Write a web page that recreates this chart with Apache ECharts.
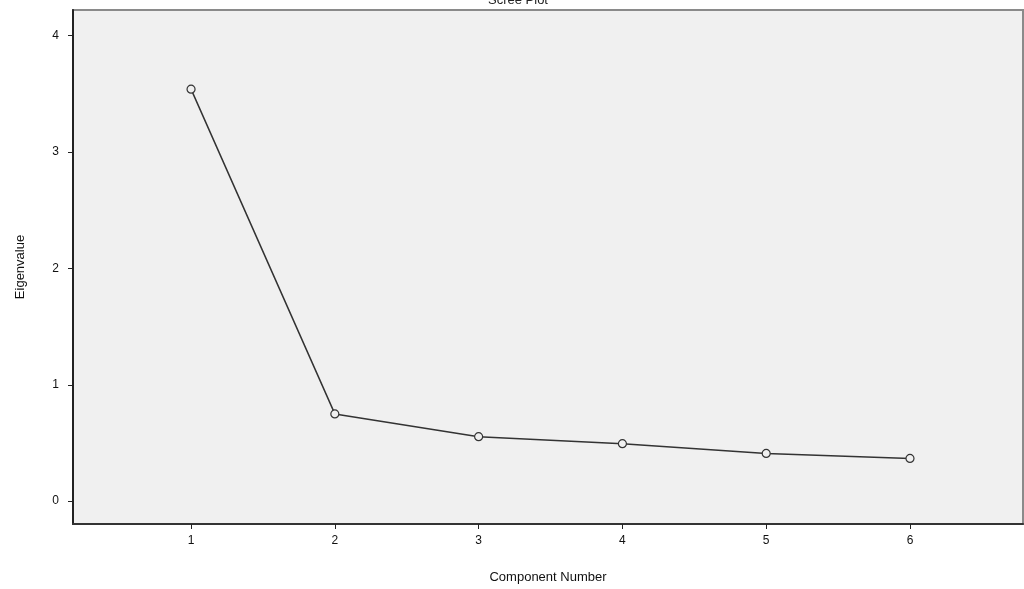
<!DOCTYPE html>
<html>
<head>
<meta charset="utf-8">
<script src="https://cdn.jsdelivr.net/npm/echarts@6/dist/echarts.min.js"></script>
<style>
html,body{margin:0;padding:0;background:#fff;}
#chart{width:1024px;height:589px;}
</style>
</head>
<body>
<div id="chart"></div>
<script>
const components = [1, 2, 3, 4, 5, 6];
const eigenvalues = [3.54, 0.75, 0.554, 0.494, 0.41, 0.367];
const xTicks = [1, 2, 3, 4, 5, 6];
const yTicks = [0, 1, 2, 3, 4];
const titleText = 'Scree Plot';
const xName = 'Component Number';
const yName = 'Eigenvalue';

const chart = echarts.init(document.getElementById('chart'), null, {renderer: 'canvas'});
const font = 'Liberation Sans, Arial, sans-serif';
chart.setOption({
  animation: false,
  backgroundColor: '#ffffff',
  title: {
    text: titleText,
    left: 513, textAlign: 'center',
    top: -11,
    textStyle: {fontFamily: font, fontSize: 13, fontWeight: 'normal', color: '#222'}
  },
  grid: {
    left: 73, right: 1, top: 10, bottom: 61,
    show: true, backgroundColor: '#f0f0f0', borderColor: '#8a8a8a', borderWidth: 2
  },
  xAxis: {
    type: 'value', min: 0.179, max: 6.786,
    name: xName, nameLocation: 'middle', nameGap: 47,
    nameTextStyle: {fontFamily: font, fontSize: 13, color: '#111'},
    axisLine: {show: true, onZero: false, lineStyle: {color: '#333', width: 2}},
    axisTick: {show: true, customValues: xTicks, length: 5, lineStyle: {color: '#222'}},
    axisLabel: {customValues: xTicks, margin: 11, fontFamily: font, fontSize: 12, color: '#111'},
    splitLine: {show: false}
  },
  yAxis: {
    type: 'value', min: -0.196, max: 4.22,
    name: yName, nameLocation: 'middle', nameGap: 46, nameRotate: 90,
    nameTextStyle: {fontFamily: font, fontSize: 13, color: '#111'},
    axisLine: {show: true, onZero: false, lineStyle: {color: '#222', width: 2}},
    axisTick: {show: true, customValues: yTicks, length: 5, lineStyle: {color: '#222'}},
    axisLabel: {customValues: yTicks, margin: 14, fontFamily: font, fontSize: 12, color: '#111'},
    splitLine: {show: false}
  },
  series: [{
    type: 'line',
    data: components.map((c, i) => [c, eigenvalues[i]]),
    symbol: 'circle', symbolSize: 8,
    lineStyle: {color: '#333', width: 1.5},
    itemStyle: {color: '#f0f0f0', borderColor: '#333', borderWidth: 1.2}
  }]
});
</script>
</body>
</html>
